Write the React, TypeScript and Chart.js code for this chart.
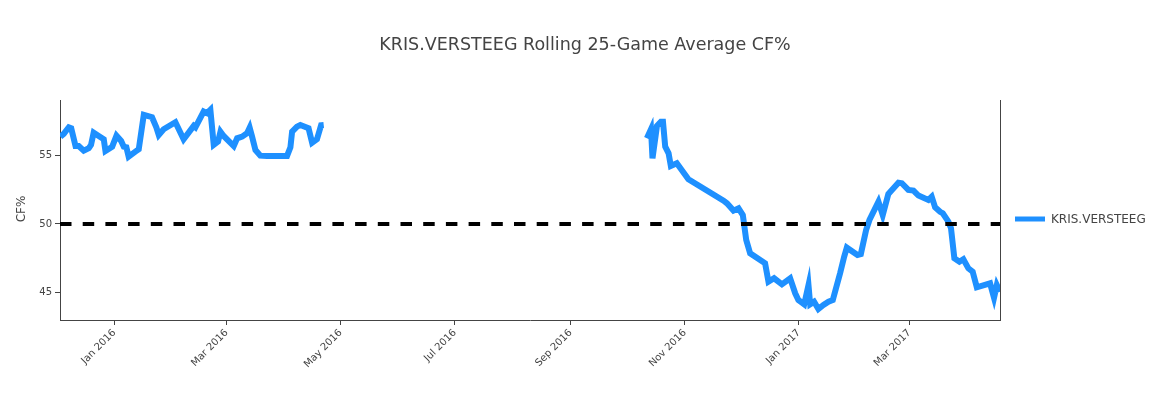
import React, { useEffect, useRef } from "react";
import { Chart, registerables } from "chart.js";

Chart.register(...registerables);

const TITLE = "KRIS.VERSTEEG Rolling 25-Game Average CF%";
const SERIES_NAME = "KRIS.VERSTEEG";
const Y_TITLE = "CF%";

// x values are days since 2016-01-01
const seasonADays = [
  -28.9, -27.1, -24.4, -23.1, -20.8, -19.1, -16.4, -13.7, -12.5, -11.1, -8.4, -5.7, -4.8, -1.2,
  1.1, 3.6, 5.0, 6.4, 7.6, 11.2, 13.0, 15.7, 20.1, 22.4, 23.7, 26.3, 32.6, 37.0, 42.4, 43.3,
  47.7, 49.5, 51.3, 53.1, 55.4, 56.7, 58.4, 63.8, 65.6, 68.3, 70.9, 72.3, 73.6, 75.4, 78.0,
  81.6, 92.3, 94.1, 95.0, 97.6, 99.4, 103.8, 105.7, 108.3, 110.5, 111.9,
];
const seasonAValues = [
  56.34, 56.54, 57.02, 56.95, 55.66, 55.66, 55.32, 55.5, 55.74, 56.63, 56.39, 56.15, 55.3, 55.61,
  56.41, 56.03, 55.61, 55.57, 54.89, 55.25, 55.42, 57.92, 57.75, 57.02, 56.46, 56.88, 57.39, 56.15,
  57.12, 57.02, 58.16, 58.04, 58.28, 55.74, 55.98, 56.7, 56.39, 55.66, 56.22, 56.34, 56.59, 56.99,
  56.34, 55.37, 54.96, 54.94, 54.94, 55.57, 56.7, 57.07, 57.19, 56.95, 55.9, 56.15, 57.17, 57.19,
];
const seasonBDays = [
  284.7, 286.9, 287.7, 290.1, 292.2, 293.3, 294.5, 296.3, 297.5, 300.7, 306.9, 325.7, 327.5, 331.0,
  333.7, 336.0, 337.8, 339.9, 347.9, 349.7, 352.7, 356.9, 361.3, 364.0, 365.7, 368.8, 371.1, 372.0,
  374.1, 376.4, 379.1, 381.8, 384.1, 388.0, 390.2, 391.6, 397.3, 399.1, 401.9, 403.7, 408.5, 410.8,
  413.8, 419.2, 421.0, 424.5, 427.2, 429.9, 435.2, 437.0, 438.8, 441.5, 442.9, 445.9, 447.3, 449.1,
  451.8, 453.9, 456.6, 458.9, 461.1, 468.2, 470.3, 471.8, 473.5,
];
const seasonBValues = [
  56.22, 56.88, 54.77, 57.12, 57.43, 57.43, 55.61, 55.13, 54.21, 54.41, 53.25, 51.69, 51.5, 50.97,
  51.14, 50.65, 48.84, 47.87, 47.15, 45.81, 46.06, 45.62, 46.06, 44.97, 44.48, 44.17, 45.57, 44.17,
  44.36, 43.83, 44.12, 44.36, 44.48, 46.42, 47.63, 48.28, 47.75, 47.82, 49.56, 50.29, 51.62, 50.65,
  52.18, 53.0, 52.96, 52.47, 52.42, 52.06, 51.74, 51.98, 51.21, 50.89, 50.78, 50.17, 49.69, 47.51,
  47.26, 47.44, 46.78, 46.54, 45.4, 45.69, 44.65, 45.57, 45.08,
];

const BASELINE = 50;
const X_MIN = -29.1;
const X_MAX = 473.5;
const Y_MIN = 43.03;
const Y_MAX = 59.0;

const tickDays = [0, 60, 121, 182, 244, 305, 366, 425];
const tickLabels = ["Jan 2016", "Mar 2016", "May 2016", "Jul 2016", "Sep 2016", "Nov 2016", "Jan 2017", "Mar 2017"];
const yTicks = [45, 50, 55];

const LINE_COLOR = "rgb(30,144,255)";
const TEXT_COLOR = "#444";
const FONT = "'DejaVu Sans', Verdana, sans-serif";

const decorPlugin = {
  id: "decor",
  afterDraw(chart: any) {
    const { ctx, chartArea } = chart;
    ctx.save();
    // right mirror line
    ctx.strokeStyle = "#444";
    ctx.lineWidth = 1;
    ctx.beginPath();
    ctx.moveTo(Math.round(chartArea.right) + 0.5, chartArea.top);
    ctx.lineTo(Math.round(chartArea.right) + 0.5, chartArea.bottom);
    ctx.stroke();

    // title
    ctx.fillStyle = TEXT_COLOR;
    ctx.font = `17.5px ${FONT}`;
    ctx.textAlign = "center";
    ctx.textBaseline = "middle";
    ctx.fillText(TITLE, 585, 45);

    // y title
    ctx.save();
    ctx.translate(22, 209);
    ctx.rotate(-Math.PI / 2);
    ctx.font = `12px ${FONT}`;
    ctx.fillText(Y_TITLE, 0, 0);
    ctx.restore();

    // legend
    ctx.strokeStyle = LINE_COLOR;
    ctx.lineWidth = 5;
    ctx.beginPath();
    ctx.moveTo(1015, 219);
    ctx.lineTo(1045, 219);
    ctx.stroke();
    ctx.font = `12px ${FONT}`;
    ctx.textAlign = "left";
    ctx.fillStyle = TEXT_COLOR;
    ctx.fillText(SERIES_NAME, 1051, 219.5);
    ctx.restore();
  },
};

export default function App() {
  const canvasRef = useRef<HTMLCanvasElement | null>(null);

  useEffect(() => {
    document.body.style.margin = "0";
    const canvas = canvasRef.current;
    if (!canvas) return;

    const seriesData: any[] = [];
    seasonADays.forEach((d, i) => seriesData.push({ x: d, y: seasonAValues[i] }));
    seriesData.push({ x: (seasonADays[seasonADays.length - 1] + seasonBDays[0]) / 2, y: null });
    seasonBDays.forEach((d, i) => seriesData.push({ x: d, y: seasonBValues[i] }));

    const chart = new Chart(canvas, {
      type: "line",
      data: {
        datasets: [
          {
            label: "baseline",
            data: [
              { x: X_MIN, y: BASELINE },
              { x: X_MAX, y: BASELINE },
            ],
            borderColor: "#000",
            borderWidth: 4,
            borderDash: [11.5, 11.2],
            pointRadius: 0,
            fill: false,
          },
          {
            label: SERIES_NAME,
            data: seriesData,
            borderColor: LINE_COLOR,
            borderWidth: 6,
            pointRadius: 0,
            spanGaps: false,
            tension: 0,
            fill: false,
          },
        ],
      },
      options: {
        responsive: false,
        animation: false,
        layout: { padding: { top: 100, right: 168, left: 0, bottom: 0 } },
        plugins: {
          legend: { display: false },
          title: { display: false },
          tooltip: { enabled: false },
        },
        scales: {
          x: {
            type: "linear",
            min: X_MIN,
            max: X_MAX,
            afterBuildTicks: (scale: any) => {
              scale.ticks = tickDays.map((v) => ({ value: v }));
            },
            afterFit: (scale: any) => {
              scale.height = 80;
            },
            ticks: {
              autoSkip: false,
              minRotation: 45,
              maxRotation: 45,
              color: TEXT_COLOR,
              font: { family: FONT, size: 10 },
              padding: 2,
              callback: (value: any) => {
                const idx = tickDays.indexOf(Number(value));
                return idx >= 0 ? tickLabels[idx] : "";
              },
            },
            grid: {
              display: true,
              drawOnChartArea: false,
              drawTicks: true,
              tickLength: 5,
              color: "#444",
            },
            border: { display: true, color: "#444", width: 1 },
          },
          y: {
            type: "linear",
            min: Y_MIN,
            max: Y_MAX,
            afterBuildTicks: (scale: any) => {
              scale.ticks = yTicks.map((v) => ({ value: v }));
            },
            afterFit: (scale: any) => {
              scale.width = 60;
            },
            ticks: {
              color: TEXT_COLOR,
              font: { family: FONT, size: 10 },
              padding: 3,
            },
            grid: {
              display: true,
              drawOnChartArea: false,
              drawTicks: true,
              tickLength: 5,
              color: "#444",
            },
            border: { display: true, color: "#444", width: 1 },
          },
        },
      },
      plugins: [decorPlugin],
    });

    return () => chart.destroy();
  }, []);

  return (
    <div style={{ width: 1168, height: 400, position: "relative", background: "#fff" }}>
      <canvas ref={canvasRef} width={1168} height={400} style={{ width: 1168, height: 400, display: "block" }} />
    </div>
  );
}
